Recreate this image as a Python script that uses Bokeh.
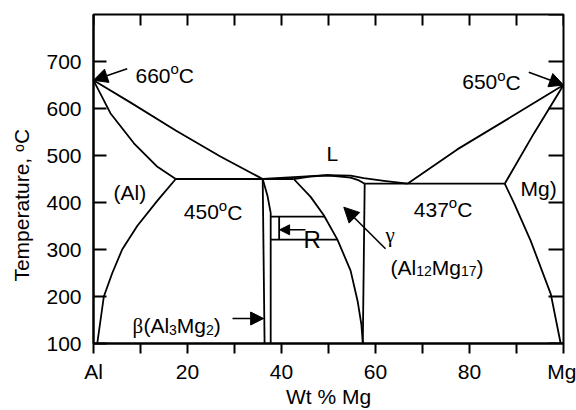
from bokeh.plotting import figure
from bokeh.models import Range1d, FixedTicker, Arrow, NormalHead
from bokeh.core.properties import value
from bokeh.embed import file_html
from bokeh.resources import INLINE

# ---------------- data (wt % Mg, temperature in C) ----------------
al_liquidus_wt = [0, 8, 17.5, 27, 36.0]
al_liquidus_T = [660, 612, 553, 498, 450]
al_solidus_wt = [0, 3.6, 8.6, 13.6, 17.5]
al_solidus_T = [660, 590, 526, 476, 450]
al_solvus_wt = [17.5, 13.6, 9.3, 6.1, 4.0, 2.2, 0.8]
al_solvus_T = [450, 404, 350, 300, 250, 200, 100]
eut1_wt = [17.5, 42.6]
eut1_T = [450, 450]
beta_left_wt = [36.0, 36.4]
beta_left_T = [450, 100]
beta_right_wt = [36.0, 37.0, 37.7, 37.7]
beta_right_T = [450, 415, 378, 100]
gamma_liquidus_wt = [36.0, 42.6, 49.8, 54.7, 57.5, 61.8, 66.8]
gamma_liquidus_T = [450, 454, 458, 457, 452, 446, 440]
gamma_solidus_wt = [42.6, 46.0, 49.8, 54.7, 56.5, 57.7]
gamma_solidus_T = [450, 455, 458, 453, 447, 440]
gamma_left_wt = [42.6, 46.2, 49.0, 51.9, 54.7, 56.2, 57.0, 57.3]
gamma_left_T = [450, 412, 373, 321, 255, 190, 140, 100]
gamma_right_wt = [57.7, 57.3]
gamma_right_T = [440, 100]
eut2_wt = [57.7, 87.5]
eut2_T = [440, 440]
mg_liquidus_wt = [66.8, 77.4, 89.5, 100]
mg_liquidus_T = [440, 513, 586, 650]
mg_solidus_wt = [87.5, 93.7, 100]
mg_solidus_T = [440, 547, 650]
mg_solvus_wt = [87.5, 89.5, 93.0, 97.3, 99.4]
mg_solvus_T = [440, 398, 319, 205, 100]
r_upper_wt = [37.7, 49.2]
r_upper_T = [370, 370]
r_lower_wt = [37.7, 51.9]
r_lower_T = [321, 321]
r_mark_wt = [39.5, 39.5]
r_mark_T = [321, 370]

x_major_ticks = [0, 20, 40, 60, 80, 100]
x_minor_ticks = [10, 30, 50, 70, 90]
x_tick_labels = {0: "Al", 100: "Mg"}
y_ticks = [100, 200, 300, 400, 500, 600, 700]
y_ticks_right = [100, 200, 300, 400, 500, 600, 700, 800]
top_ticks = [0, 10, 20, 30, 40, 50, 60, 70, 80, 90, 100]
x_title = "Wt % Mg"
y_title = "Temperature, \u1d52C"

FONT = "Liberation Sans"
SERIF = "Liberation Serif"
W, H = 576, 410
ML, MR, MT, MB = 93, 13, 14, 67
X0, X1, Y0, Y1 = 0, 100, 100, 800
PX = (W - ML - MR) / (X1 - X0)   # px per wt%
PY = (H - MT - MB) / (Y1 - Y0)   # px per degree

p = figure(width=W, height=H, x_range=Range1d(X0, X1), y_range=Range1d(Y0, Y1),
           output_backend="svg", toolbar_location=None,
           min_border_left=ML, min_border_right=MR, min_border_top=MT, min_border_bottom=MB)
p.xgrid.visible = False
p.ygrid.visible = False
p.outline_line_color = "black"
p.outline_line_width = 2
p.background_fill_color = "white"
p.border_fill_color = "white"

# bottom axis
xa = p.xaxis[0]
xa.ticker = FixedTicker(ticks=x_major_ticks, minor_ticks=x_minor_ticks)
xa.major_label_overrides = x_tick_labels
xa.major_tick_in = 0
xa.major_tick_out = 10
xa.minor_tick_in = 0
xa.minor_tick_out = 10
xa.axis_line_width = 2
xa.major_tick_line_width = 2
xa.minor_tick_line_width = 2
xa.major_label_text_font = FONT
xa.major_label_text_font_size = "21px"
xa.major_label_text_color = "black"
xa.major_label_standoff = 6
xa.axis_label = x_title
xa.axis_label_text_font = FONT
xa.axis_label_text_font_size = "21px"
xa.axis_label_text_font_style = "normal"
xa.axis_label_text_color = "black"
xa.axis_label_standoff = -1

# left axis
ya = p.yaxis[0]
ya.ticker = FixedTicker(ticks=y_ticks, minor_ticks=[])
ya.major_tick_in = 13
ya.major_tick_out = 0
ya.axis_line_width = 2
ya.major_tick_line_width = 2
ya.major_label_text_font = FONT
ya.major_label_text_font_size = "21px"
ya.major_label_text_color = "black"
ya.major_label_standoff = 12
# trailing no-break spaces push the rotated title down along the axis, as in the reference
ya.axis_label = y_title + "\u00a0" * 9
ya.axis_label_text_font = FONT
ya.axis_label_text_font_size = "21px"
ya.axis_label_text_font_style = "normal"
ya.axis_label_text_color = "black"
ya.axis_label_standoff = 10

# inward ticks on the right and top edges
r_len = 15 / PX
t_len = 11 / PY
p.segment(x0=[X1] * len(y_ticks_right), y0=y_ticks_right,
          x1=[X1 - r_len] * len(y_ticks_right), y1=y_ticks_right,
          line_color="black", line_width=2)
p.segment(x0=top_ticks, y0=[Y1] * len(top_ticks),
          x1=top_ticks, y1=[Y1 - t_len] * len(top_ticks),
          line_color="black", line_width=2)

# phase boundaries
xs = [al_liquidus_wt, al_solidus_wt, al_solvus_wt, eut1_wt, beta_left_wt, beta_right_wt,
      gamma_liquidus_wt, gamma_solidus_wt, gamma_left_wt, gamma_right_wt, eut2_wt,
      mg_liquidus_wt, mg_solidus_wt, mg_solvus_wt, r_upper_wt, r_lower_wt, r_mark_wt]
ys = [al_liquidus_T, al_solidus_T, al_solvus_T, eut1_T, beta_left_T, beta_right_T,
      gamma_liquidus_T, gamma_solidus_T, gamma_left_T, gamma_right_T, eut2_T,
      mg_liquidus_T, mg_solidus_T, mg_solvus_T, r_upper_T, r_lower_T, r_mark_T]
p.multi_line(xs=xs, ys=ys, line_color="black", line_width=1.8, line_join="round")

# ---------- rich text helper ----------
AW = {str(d): 556 for d in range(10)}
AW.update({"A": 667, "l": 222, "M": 833, "g": 556, "C": 722, "o": 556, "(": 333, ")": 333,
           "L": 556, "R": 722, "W": 944, "t": 278, "%": 889, " ": 278, "T": 611, "e": 556,
           "m": 833, "p": 556, "r": 333, "a": 556, "u": 556, ",": 278, "β": 520, "γ": 420})


def tw(s, fs):
    return sum(AW.get(c, 556) for c in s) * fs / 1000.0


def px_to_data(px, py):
    return X0 + (px - ML) / PX, Y1 - (py - MT) / PY


def rich(left, base, segs, size=21):
    cx = 0.0
    for s, kind, font in segs:
        if kind == "sup":
            fs, dy = 15, -7
        elif kind == "sub":
            fs, dy = 14, 4
        else:
            fs, dy = size, 0
        x, y = px_to_data(left + cx, base + dy)
        p.text(x=[x], y=[y], text=[s], text_font=value(font), text_font_size=value(f"{fs}px"),
               text_baseline="alphabetic", text_align="left", text_color="black")
        cx += tw(s, fs)


def deg(num):
    return [(num, "n", FONT), ("o", "sup", FONT), ("C", "n", FONT)]


rich(135, 75, deg("660"))
rich(461.7, 81.7, deg("650"))
rich(183.3, 211.7, deg("450"))
rich(413.3, 209, deg("437"))
rich(326, 153, [("L", "n", FONT)])
rich(113, 192, [("(Al)", "n", FONT)])
rich(520, 188, [("Mg)", "n", FONT)])
rich(303, 239.3, [("R", "n", FONT)], size=24)
rich(385, 234, [("γ", "n", SERIF)])
rich(390, 266.7, [("(Al", "n", FONT), ("12", "sub", FONT), ("Mg", "n", FONT),
                  ("17", "sub", FONT), (")", "n", FONT)])
rich(132, 325, [("β", "n", SERIF), ("(Al", "n", FONT), ("3", "sub", FONT), ("Mg", "n", FONT),
                ("2", "sub", FONT), (")", "n", FONT)])


# arrows
def arrow(tail, tip, size):
    x0, y0 = px_to_data(*tail)
    x1, y1 = tip
    p.add_layout(Arrow(end=NormalHead(size=size, fill_color="black", line_color="black", line_width=1),
                       x_start=x0, y_start=y0, x_end=x1, y_end=y1,
                       line_color="black", line_width=1.6))


arrow((126.7, 68.3), (0, 660), 14)
arrow((528.3, 71.7), (100, 650), 14)
arrow((385, 248.3), px_to_data(343.3, 206.7), 15)
arrow((232, 318), (36.2, px_to_data(0, 318)[1]), 13)
arrow((305, 229.3), (39.6, px_to_data(0, 229.3)[1]), 10)

open("out.html", "w").write(file_html(p, INLINE))
